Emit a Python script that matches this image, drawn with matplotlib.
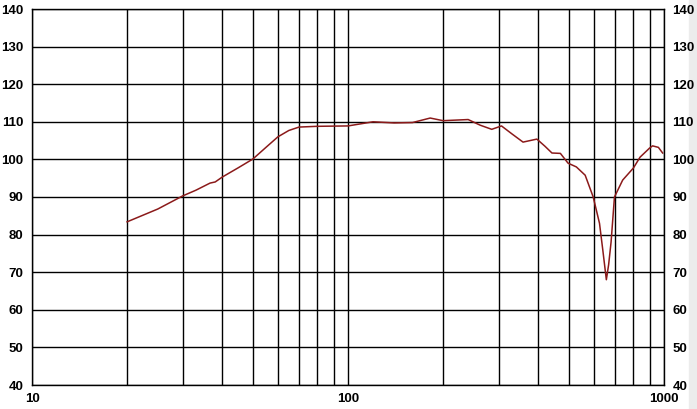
import numpy as np
import matplotlib
matplotlib.use('Agg')
import matplotlib.pyplot as plt
from matplotlib.ticker import FixedLocator, NullFormatter

# frequency response
freq = [20, 25, 30, 33, 36.6, 38, 40, 45, 50, 55, 60, 65, 70, 80, 100, 120, 140,
        160, 182, 200, 240, 262, 285, 306, 330, 358, 396, 420, 442, 470, 497, 528,
        563, 597, 625, 640, 657, 668, 680, 697, 740, 800, 840, 900, 920, 960, 990]
spl = [83.4, 86.8, 90.3, 91.8, 93.7, 94.0, 95.3, 97.8, 100.1, 103.2, 106.0, 107.7,
       108.6, 108.8, 108.9, 110.0, 109.7, 109.8, 111.0, 110.3, 110.6, 109.1,
       108.0, 108.9, 106.8, 104.6, 105.4, 103.5, 101.7, 101.6, 99.0, 98.0,
       95.8, 90.0, 83.0, 76.0, 68.0, 72.0, 78.0, 90.0, 94.5, 97.7, 100.6,
       103.0, 103.6, 103.2, 101.7]

y_ticks = [40, 50, 60, 70, 80, 90, 100, 110, 120, 130, 140]
x_labels = [10, 100, 1000]

fig = plt.figure(figsize=(6.97, 4.09), dpi=100)
ax = fig.add_axes([32 / 697, 1 - 385 / 409, 632 / 697, 376 / 409])

ax.plot(freq, spl, color='#8b1a1a', linewidth=1.1)

ax.set_xscale('log')
ax.set_xlim(10, 1000)
ax.set_ylim(40, 140)

minor = [m * d for d in (10, 100) for m in range(2, 10)]
ax.xaxis.set_major_locator(FixedLocator(x_labels))
ax.xaxis.set_minor_locator(FixedLocator(minor))
ax.xaxis.set_minor_formatter(NullFormatter())
ax.set_xticklabels([str(v) for v in x_labels])
ax.set_yticks(y_ticks)

ax.grid(True, which='both', color='black', linewidth=1)
ax.set_axisbelow(True)
for s in ax.spines.values():
    s.set_color('black')
    s.set_linewidth(1)

ax.tick_params(axis='both', which='both', length=0)
ax.tick_params(axis='y', labelleft=True, labelright=True, pad=6)
ax.tick_params(axis='x', pad=6)
for t in ax.xaxis.get_major_ticks() + ax.yaxis.get_major_ticks():
    for lab in (t.label1, t.label2):
        lab.set_fontweight('bold')
        lab.set_fontsize(9.5)
        lab.set_family('Liberation Sans')

# light strip at the right edge
fig.patches.append(plt.Rectangle((689 / 697, 0), 8 / 697, 1, transform=fig.transFigure,
                                 color='#ececec', zorder=-1))

fig.savefig('out.png', dpi=100)
